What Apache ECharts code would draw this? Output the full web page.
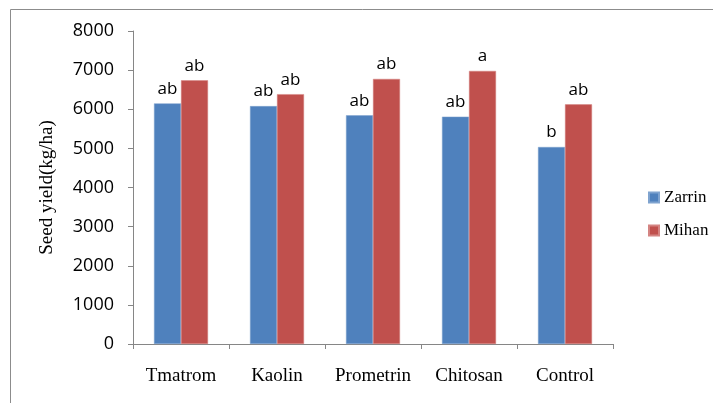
<!DOCTYPE html>
<html><head><meta charset="utf-8">
<script src="https://cdn.jsdelivr.net/npm/echarts@6/dist/echarts.min.js"></script>
<style>html,body{margin:0;padding:0;background:#fff}#c{width:713px;height:403px}</style>
</head><body><div id="c"></div>
<script>
var categories = ['Tmatrom', 'Kaolin', 'Prometrin', 'Chitosan', 'Control'];
var zarrin = [6150, 6080, 5845, 5810, 5035];
var mihan = [6740, 6385, 6775, 6980, 6125];
var zarrinLetters = ['ab', 'ab', 'ab', 'ab', 'b'];
var mihanLetters = ['ab', 'ab', 'ab', 'a', 'ab'];
var yTicks = [0, 1000, 2000, 3000, 4000, 5000, 6000, 7000, 8000];

var chart = echarts.init(document.getElementById('c'), null, {renderer: 'canvas'});
var sans = "'Open Sans', sans-serif";
var serif = "'Liberation Serif', 'Times New Roman', serif";
function lab(letters) {
  return {show: true, position: 'top', distance: 6, fontFamily: sans, fontSize: 17, color: '#000',
    formatter: function (p) { return letters[p.dataIndex]; }};
}
chart.setOption({
  animation: false,
  graphic: [{type: 'rect', shape: {x: 10.5, y: 9.5, width: 800, height: 500},
    style: {fill: 'none', stroke: '#8c8c8c', lineWidth: 1}}],
  grid: {left: 133, right: 100, top: 31, bottom: 59, containLabel: false},
  legend: {orient: 'vertical', left: 643, top: 184, itemWidth: 10, itemHeight: 10, itemGap: 16,
    icon: 'rect', textStyle: {fontFamily: serif, fontSize: 17, color: '#000'},
    data: ['Zarrin', 'Mihan']},
  xAxis: {type: 'category', data: categories,
    axisLine: {lineStyle: {color: '#868686', width: 1}},
    axisTick: {show: true, length: 5, lineStyle: {color: '#868686'}},
    axisLabel: {interval: 0, fontFamily: serif, fontSize: 19, color: '#000', margin: 23}},
  yAxis: {type: 'value', min: yTicks[0], max: yTicks[yTicks.length - 1], interval: 1000,
    name: 'Seed yield(kg/ha)', nameLocation: 'middle', nameGap: 76,
    nameTextStyle: {fontFamily: serif, fontSize: 19, color: '#000'},
    axisLine: {show: true, lineStyle: {color: '#868686', width: 1}},
    axisTick: {show: true, length: 5, lineStyle: {color: '#868686'}},
    splitLine: {show: false},
    axisLabel: {fontFamily: sans, fontSize: 18, color: '#000', margin: 19,
      formatter: function (v) { return String(v); }}},
  series: [
    {name: 'Zarrin', type: 'bar', data: zarrin, barWidth: 27, barGap: '0%',
      itemStyle: {color: '#4F81BD', borderColor: '#7fa3cf', borderWidth: 0.5}, label: lab(zarrinLetters)},
    {name: 'Mihan', type: 'bar', data: mihan, barWidth: 27, barGap: '0%',
      itemStyle: {color: '#C0504D', borderColor: '#d48482', borderWidth: 0.5}, label: lab(mihanLetters)}
  ]
});
</script></body></html>
